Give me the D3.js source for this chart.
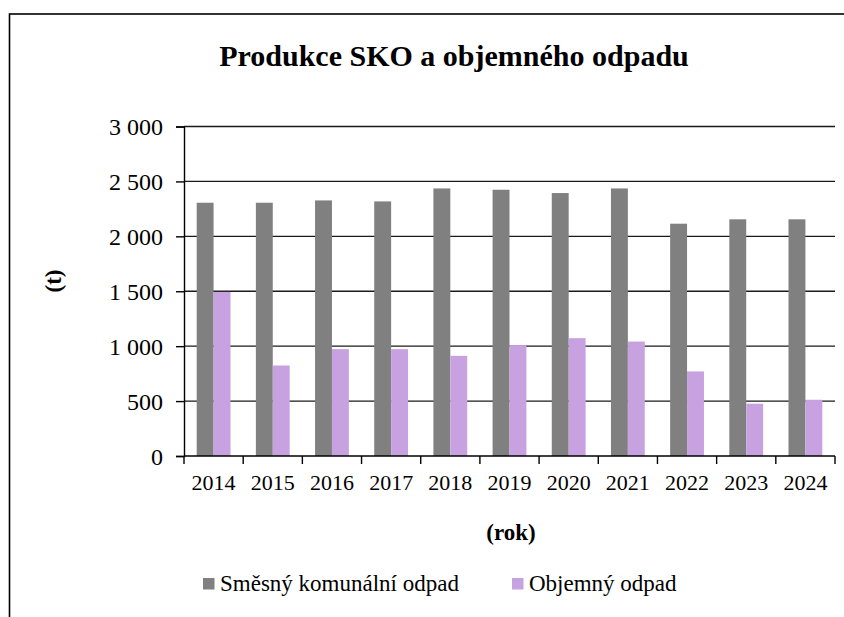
<!DOCTYPE html>
<html>
<head>
<meta charset="utf-8">
<script src="https://cdn.jsdelivr.net/npm/d3@7"></script>
<style>
  html, body { margin: 0; padding: 0; background: #fff; }
  svg { display: block; }
  svg text { font-family: "Liberation Serif", "Times New Roman", serif; fill: #000; }
</style>
</head>
<body>
<svg id="chart" width="844" height="617"></svg>
<script>
// data
const years = ["2014", "2015", "2016", "2017", "2018", "2019", "2020", "2021", "2022", "2023", "2024"];
const seriesNames = ["Směsný komunální odpad", "Objemný odpad"];
const sko = [2306, 2306, 2327, 2318, 2436, 2424, 2394, 2436, 2115, 2155, 2155];
const objemny = [1494, 824, 973, 973, 912, 1009, 1073, 1042, 770, 476, 512];
const yTicks = [0, 500, 1000, 1500, 2000, 2500, 3000];
const colors = ["#808080", "#c8a2e0"];

const svg = d3.select("#chart");
const width = 844, height = 617;
const margin = { top: 126.5, right: 9, bottom: 161, left: 184 };

// outer frame (only left and top visible in picture)
svg.append("rect")
  .attr("x", 9.5).attr("y", 14)
  .attr("width", width + 20).attr("height", height + 20)
  .attr("fill", "none").attr("stroke", "#000").attr("stroke-width", 1.6);

const x0 = d3.scaleBand()
  .domain(years)
  .range([margin.left, width - margin.right])
  .padding(0);

const x1 = d3.scaleBand()
  .domain(seriesNames)
  .range([0, x0.bandwidth()])
  .paddingInner(0)
  .paddingOuter(0.75);

const y = d3.scaleLinear()
  .domain([0, 3000])
  .range([height - margin.bottom, margin.top]);

const fmt = d3.formatLocale({ decimal: ",", thousands: "\u00a0", grouping: [3], currency: ["", ""] }).format(",");

// gridlines
svg.append("g")
  .selectAll("line")
  .data(yTicks.filter(d => d > 0))
  .join("line")
  .attr("x1", margin.left).attr("x2", width - margin.right)
  .attr("y1", d => y(d)).attr("y2", d => y(d))
  .attr("stroke", "#1a1a1a").attr("stroke-width", 1.4);

// bars
const rows = years.map((yr, i) => ({ year: yr, values: [sko[i], objemny[i]] }));
svg.append("g")
  .selectAll("g")
  .data(rows)
  .join("g")
  .attr("transform", d => `translate(${x0(d.year)},0)`)
  .selectAll("rect")
  .data(d => d.values.map((v, j) => ({ key: seriesNames[j], v, j })))
  .join("rect")
  .attr("x", d => x1(d.key))
  .attr("width", x1.bandwidth())
  .attr("y", d => y(d.v))
  .attr("height", d => y(0) - y(d.v))
  .attr("fill", d => colors[d.j]);

// y axis
const yAxis = svg.append("g")
  .attr("transform", `translate(${margin.left},0)`)
  .call(d3.axisLeft(y).tickValues(yTicks).tickFormat(fmt).tickSize(8).tickPadding(13));
yAxis.select(".domain").attr("stroke", "#000").attr("stroke-width", 1.4);
yAxis.selectAll(".tick line").attr("stroke", "#000").attr("stroke-width", 1.4);
yAxis.selectAll("text")
  .attr("font-size", 24)
  .attr("font-family", "Liberation Serif")
  .attr("dy", "0.34em");

// x axis: ticks on category boundaries
const xg = svg.append("g");
xg.append("line")
  .attr("x1", margin.left).attr("x2", width - margin.right)
  .attr("y1", y(0)).attr("y2", y(0))
  .attr("stroke", "#000").attr("stroke-width", 1.4);
const bounds = years.map(d => x0(d)).concat([x0.range()[1]]);
xg.selectAll("line.tk")
  .data(bounds)
  .join("line")
  .attr("class", "tk")
  .attr("x1", d => d).attr("x2", d => d)
  .attr("y1", y(0)).attr("y2", y(0) + 8)
  .attr("stroke", "#000").attr("stroke-width", 1.4);
xg.selectAll("text")
  .data(years)
  .join("text")
  .attr("x", d => x0(d) + x0.bandwidth() / 2)
  .attr("y", 490)
  .attr("text-anchor", "middle")
  .attr("font-size", 22)
  .text(d => d);

// title
svg.append("text")
  .attr("x", 454).attr("y", 66)
  .attr("text-anchor", "middle")
  .attr("font-size", 30).attr("font-weight", "bold")
  .text("Produkce SKO a objemného odpadu");

// axis titles
svg.append("text")
  .attr("transform", "translate(61,281) rotate(-90)")
  .attr("text-anchor", "middle")
  .attr("font-size", 23).attr("font-weight", "bold")
  .text("(t)");
svg.append("text")
  .attr("x", 511).attr("y", 540)
  .attr("text-anchor", "middle")
  .attr("font-size", 23).attr("font-weight", "bold")
  .text("(rok)");

// legend
const legendX = [203, 512];
const lg = svg.append("g")
  .selectAll("g")
  .data(seriesNames)
  .join("g")
  .attr("transform", (d, i) => `translate(${legendX[i]},578)`);
lg.append("rect")
  .attr("width", 11.5).attr("height", 11.5)
  .attr("fill", (d, i) => colors[i]);
lg.append("text")
  .attr("x", 17).attr("y", 12.5)
  .attr("font-size", 23)
  .text(d => d);
</script>
</body>
</html>
